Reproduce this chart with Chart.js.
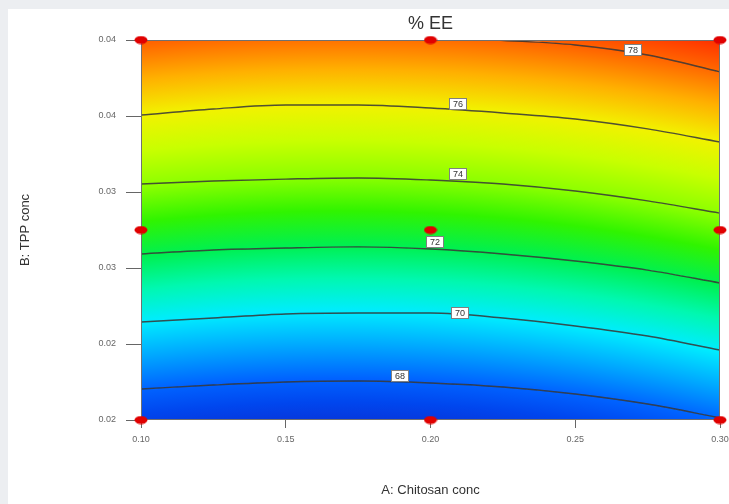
<!DOCTYPE html>
<html>
<head>
<meta charset="utf-8">
<title>% EE</title>
<script src="https://cdn.jsdelivr.net/npm/chart.js@4.4.1/dist/chart.umd.min.js"></script>
<style>
  body { margin: 0; background: #eceef1; }
  #panel { position: absolute; left: 8px; top: 9px; width: 721px; height: 495px; background: #fff; overflow: hidden; }
  canvas { display: block; }
</style>
</head>
<body>
<div id="panel"><canvas id="ee_chart" width="721" height="495"></canvas></div>
<script>
// Contour lines of %EE over chitosan (A) and TPP (B) concentration
const gridA = [0.10, 0.125, 0.15, 0.175, 0.20, 0.225, 0.25, 0.275, 0.30];
const ee68 = [0.02163, 0.02184, 0.02200, 0.02205, 0.02195, 0.02174, 0.02137, 0.02084, 0.02011];
const ee70 = [0.02516, 0.02537, 0.02558, 0.02563, 0.02563, 0.02537, 0.02495, 0.02442, 0.02368];
const ee72 = [0.02874, 0.02895, 0.02905, 0.02911, 0.02900, 0.02874, 0.02837, 0.02789, 0.02721];
const ee74 = [0.03242, 0.03258, 0.03268, 0.03274, 0.03263, 0.03242, 0.03205, 0.03153, 0.03089];
const ee76 = [0.03605, 0.03637, 0.03658, 0.03658, 0.03642, 0.03616, 0.03584, 0.03532, 0.03463];
const ee78A = [0.2226, 0.25, 0.275, 0.30];
const ee78 = [0.04, 0.03974, 0.03921, 0.03832];

const levels = [68, 70, 72, 74, 76, 78];
const labelA = [0.1895, 0.2102, 0.2016, 0.2095, 0.2095, 0.2700];
const labelB = [0.02232, 0.02563, 0.02937, 0.03295, 0.03663, 0.03947];

// design points (3 x 3)
const designA = [0.10, 0.20, 0.30];
const designB = [0.02, 0.03, 0.04];

const xTicks = [0.10, 0.15, 0.20, 0.25, 0.30];
const xTickLabels = ['0.10', '0.15', '0.20', '0.25', '0.30'];
const yTicks = [0.020, 0.024, 0.028, 0.032, 0.036, 0.040];
const yTickLabels = ['0.02', '0.02', '0.03', '0.03', '0.04', '0.04'];

// colour scale keyed by %EE level
const stopLevels = [66.5, 67.3, 68, 69, 70, 71, 72, 73, 74, 75, 76, 77, 78, 78.6, 79.2];
const stopColors = ['#0a30d4', '#0046ee', '#0062ff', '#00a8ff', '#00ecff', '#00f8b0', '#00f050', '#30f400',
  '#8cff00', '#c8ff00', '#f2f200', '#ffb000', '#ff6400', '#ff3c00', '#ee1400'];

const pts = (xs, ys) => xs.map((v, i) => ({x: v, y: ys[i]}));

const contours = [
  {level: 68, a: gridA, b: ee68},
  {level: 70, a: gridA, b: ee70},
  {level: 72, a: gridA, b: ee72},
  {level: 74, a: gridA, b: ee74},
  {level: 76, a: gridA, b: ee76},
  {level: 78, a: ee78A, b: ee78}
];

function levelRadius(level, pairs) {
  let i = 0;
  while (i < pairs.length - 2 && level > pairs[i + 1][0]) i++;
  const [l0, r0] = pairs[i];
  const [l1, r1] = pairs[i + 1];
  return r0 + (level - l0) * (r1 - r0) / (l1 - l0);
}

// one radial gradient shared by every band so the colours run on across lines
let cachedFill = null;
function fieldFill(context) {
  const chart = context.chart;
  const a = chart.chartArea;
  if (!a) return null;
  const key = [a.left, a.top, a.right, a.bottom].join(',');
  if (cachedFill && cachedFill.key === key) return cachedFill.g;
  const xs = chart.scales.x, ys = chart.scales.y;
  const cx = a.left + 0.344 * (a.right - a.left);
  const cy = a.top + 5.37 * (a.bottom - a.top);
  const pairs = contours.map(c => {
    let sum = 0;
    c.a.forEach((v, i) => {
      sum += Math.hypot(xs.getPixelForValue(v) - cx, ys.getPixelForValue(c.b[i]) - cy);
    });
    return [c.level, sum / c.a.length];
  });
  const rIn = levelRadius(stopLevels[0], pairs);
  const rOut = levelRadius(stopLevels[stopLevels.length - 1], pairs);
  const g = chart.ctx.createRadialGradient(cx, cy, rIn, cx, cy, rOut);
  stopLevels.forEach((lv, i) => {
    const t = (levelRadius(lv, pairs) - rIn) / (rOut - rIn);
    g.addColorStop(Math.min(1, Math.max(0, t)), stopColors[i]);
  });
  cachedFill = {key, g};
  return g;
}

function ellipseMark() {
  const c = document.createElement('canvas');
  c.width = 14;
  c.height = 9;
  const g = c.getContext('2d');
  g.fillStyle = '#e00000';
  g.beginPath();
  g.ellipse(7, 4.5, 6.5, 4, 0, 0, Math.PI * 2);
  g.fill();
  return c;
}

const lineStyle = {
  borderColor: 'rgba(50,50,50,0.85)',
  borderWidth: 1.4,
  pointRadius: 0,
  cubicInterpolationMode: 'monotone',
  backgroundColor: fieldFill
};
const bandOnly = {borderWidth: 0, pointRadius: 0, cubicInterpolationMode: 'monotone', backgroundColor: fieldFill};

const designPoints = [];
designB.forEach(b => designA.forEach(a => designPoints.push({x: a, y: b})));

// frame and contour value boxes, drawn before the design points
const overlay = {
  id: 'overlay',
  afterDatasetDraw(chart, args) {
    if (args.index !== 8) return;
    const {ctx, chartArea: a, scales: {x, y}} = chart;
    ctx.save();
    ctx.strokeStyle = '#707070';
    ctx.lineWidth = 1;
    ctx.strokeRect(a.left + 0.5, a.top + 0.5, a.right - a.left - 1, a.bottom - a.top - 1);
    ctx.font = '9px "Liberation Sans", Arial, sans-serif';
    ctx.textAlign = 'center';
    ctx.textBaseline = 'middle';
    levels.forEach((lv, i) => {
      const px = Math.round(x.getPixelForValue(labelA[i]));
      const py = Math.round(y.getPixelForValue(labelB[i]));
      const w = 18, h = 12;
      ctx.fillStyle = '#fff';
      ctx.fillRect(px - w / 2, py - h / 2, w, h);
      ctx.strokeStyle = '#808080';
      ctx.strokeRect(px - w / 2 + 0.5, py - h / 2 + 0.5, w - 1, h - 1);
      ctx.fillStyle = '#333';
      ctx.fillText(String(lv), px, py + 0.5);
    });
    ctx.restore();
  }
};

const tickFont = {family: '"Liberation Sans", Arial, sans-serif', size: 9};

new Chart(document.getElementById('ee_chart'), {
  type: 'line',
  data: {
    datasets: [
      {data: pts([0.10, 0.30], [0.02, 0.02]), borderWidth: 0, pointRadius: 0, fill: false},
      {data: pts(gridA, ee68), fill: '-1', ...lineStyle},
      {data: pts(gridA, ee70), fill: '-1', ...lineStyle},
      {data: pts(gridA, ee72), fill: '-1', ...lineStyle},
      {data: pts(gridA, ee74), fill: '-1', ...lineStyle},
      {data: pts(gridA, ee76), fill: '-1', ...lineStyle},
      {data: [{x: 0.10, y: 0.04}].concat(pts(ee78A, ee78)), fill: '-1', ...bandOnly},
      {data: pts([0.10, 0.30], [0.04, 0.04]), fill: '-1', ...bandOnly},
      {data: pts(ee78A, ee78), fill: false, order: -1, ...lineStyle},
      {data: designPoints, showLine: false, pointStyle: ellipseMark(), pointRadius: 7, clip: false, order: -2}
    ]
  },
  options: {
    responsive: false,
    animation: false,
    devicePixelRatio: 1,
    layout: {padding: {left: 0, right: 9, top: 0, bottom: 0}},
    plugins: {legend: {display: false}, tooltip: {enabled: false}},
    scales: {
      x: {
        type: 'linear',
        min: 0.10,
        max: 0.30,
        afterBuildTicks: s => { s.ticks = xTicks.map(v => ({value: v})); },
        afterFit: s => { s.height = 84; s.paddingLeft = 0; s.paddingRight = 0; },
        ticks: {
          font: tickFont,
          color: '#666',
          padding: 6,
          maxRotation: 0,
          callback: (v, i) => xTickLabels[i]
        },
        grid: {drawOnChartArea: false, tickLength: 8, color: '#666'},
        border: {display: false},
        title: {
          display: true,
          text: 'A: Chitosan conc',
          color: '#333',
          font: {family: '"Liberation Sans", Arial, sans-serif', size: 13},
          padding: {top: 0, bottom: 6}
        }
      },
      x2: {
        type: 'linear',
        position: 'top',
        min: 0.10,
        max: 0.30,
        afterFit: s => { s.height = 31; s.paddingLeft = 0; s.paddingRight = 0; },
        ticks: {display: false},
        grid: {display: false},
        border: {display: false},
        title: {
          display: true,
          text: '% EE',
          color: '#333',
          font: {family: '"Liberation Sans", Arial, sans-serif', size: 18},
          padding: {top: 4, bottom: 0}
        }
      },
      y: {
        type: 'linear',
        min: 0.02,
        max: 0.04,
        afterBuildTicks: s => { s.ticks = yTicks.map(v => ({value: v})); },
        afterFit: s => { s.width = 133; },
        ticks: {
          font: tickFont,
          color: '#666',
          padding: 10,
          callback: (v, i) => yTickLabels[i]
        },
        grid: {drawOnChartArea: false, tickLength: 15, color: '#666'},
        border: {display: false},
        title: {
          display: true,
          text: 'B: TPP conc',
          color: '#333',
          font: {family: '"Liberation Sans", Arial, sans-serif', size: 13},
          padding: {top: 10, bottom: 0}
        }
      }
    }
  },
  plugins: [overlay]
});
</script>
</body>
</html>
